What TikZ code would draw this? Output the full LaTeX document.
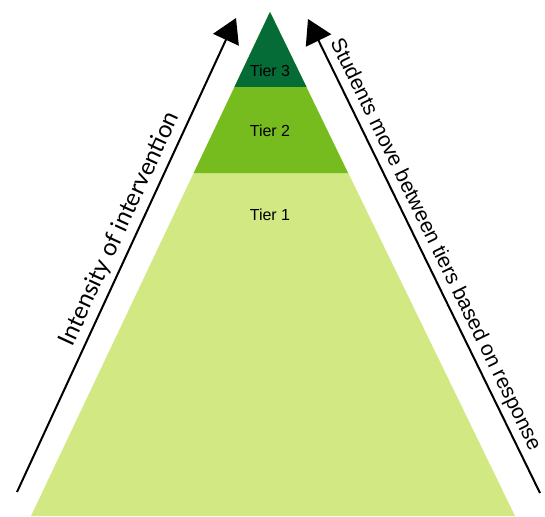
\documentclass[tikz,border=0pt]{standalone}
\usepackage{fontspec}
\setmainfont{Liberation Sans}
\newfontfamily\latofont{Lato}
\usetikzlibrary{arrows.meta}
\definecolor{tierthree}{HTML}{056B37}
\definecolor{tiertwo}{HTML}{77BC1F}
\definecolor{tierone}{HTML}{D1E883}
\tikzset{
  bigtip/.tip={Triangle[length=24pt,width=28pt]},
  bigarrow/.style={line width=2pt,-bigtip},
  tierlabel/.style={font=\fontsize{16}{19}\selectfont},
}
\begin{document}
\begin{tikzpicture}[x=1pt,y=-1pt]
\useasboundingbox (0,0) rectangle (545,516);
\coordinate (A) at (270,12);
\fill[tierone] (A) -- (31,516) -- (515,516) -- cycle;
\fill[tiertwo] (A) -- (193.7,173) -- (348,173) -- cycle;
\fill[tierthree] (A) -- (234.4,87) -- (306.5,87) -- cycle;
\node[tierlabel] (t3) at (270,71) {Tier 3};
\node[tierlabel] (t2) at (270,131) {Tier 2};
\node[tierlabel] (t1) at (270,215) {Tier 1};
\coordinate (L0) at (17,492);
\coordinate (L1) at (236,18);
\draw[bigarrow] (L0) -- node[sloped,above,pos=.54,inner sep=5pt,font=\latofont\fontsize{24}{28}\selectfont] (intens) {Intensity of intervention} (L1);
\coordinate (R0) at (308,19);
\coordinate (R1) at (540,493);
\draw[bigarrow,bigtip-] (R0) -- node[sloped,above,pos=.49,inner sep=4pt,font=\fontsize{21}{25}\selectfont] (move) {Students move between tiers based on response} (R1);
\end{tikzpicture}
\end{document}
